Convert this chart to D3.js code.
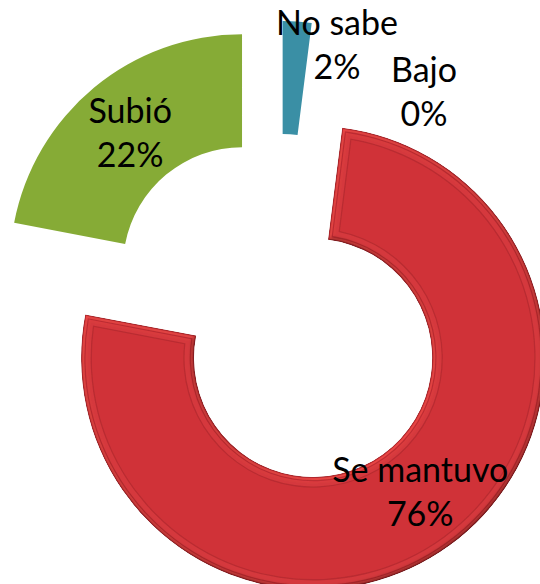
<!DOCTYPE html>
<html>
<head>
<meta charset="utf-8">
<script src="https://cdn.jsdelivr.net/npm/d3@7"></script>
<style>
  body { margin: 0; background: #fff; }
  svg { display: block; }
  text { font-family: Lato, "Open Sans", sans-serif; font-size: 34px; fill: #000; }
</style>
</head>
<body>
<svg width="540" height="584"></svg>
<script>
const categories = ['No sabe', 'Bajo', 'Se mantuvo', 'Subió'];
const values = [2, 0, 76, 22];
const colors = ['#3a8fa5', '#7f5fa8', '#d03237', '#86ab36'];

const width = 540, height = 584;
const cx = 279, cy = 311;
const r0 = 119, r1 = 232;
const explode = 58;

// label spots relative to the pie centre (Excel moves small ones out of the way)
const labelAt = {
  'No sabe': [58, -268],
  'Bajo': [145, -221]
};
const labelNudge = {
  'Se mantuvo': [4, -10]
};

const svg = d3.select('svg');

// bevel lighting for the red ring (multiplied in so the hue stays red)
const elev = 50;
const flat = Math.sin(elev * Math.PI / 180);
const mix = 0.55;
const defs = svg.append('defs');
const f = defs.append('filter').attr('id', 'bevel')
  .attr('x', '-5%').attr('y', '-5%').attr('width', '110%').attr('height', '110%');
f.append('feGaussianBlur').attr('in', 'SourceAlpha').attr('stdDeviation', 2.5).attr('result', 'blur');
f.append('feDiffuseLighting').attr('in', 'blur').attr('surfaceScale', 4)
  .attr('diffuseConstant', 1).attr('lighting-color', '#fff').attr('result', 'light')
  .append('feDistantLight').attr('azimuth', 235).attr('elevation', elev);
f.append('feComposite').attr('in', 'SourceGraphic').attr('in2', 'light')
  .attr('operator', 'arithmetic')
  .attr('k1', mix / flat).attr('k2', 1 - mix).attr('k3', 0).attr('k4', 0)
  .attr('result', 'lit');
f.append('feComposite').attr('in', 'lit').attr('in2', 'SourceGraphic').attr('operator', 'in');

const g = svg.append('g').attr('transform', `translate(${cx},${cy})`);

const data = categories.map((c, i) => ({ name: c, value: values[i], color: colors[i] }));

const pie = d3.pie().sort(null).value(d => d.value);
const arcs = pie(data);

const arc = d3.arc().innerRadius(r0).outerRadius(r1);

// inset arc: same slice shrunk by d on every side
const inset = d => d3.arc()
  .innerRadius(r0 + d)
  .outerRadius(r1 - d)
  .padRadius(100)
  .padAngle(2 * d / 100);

const offset = a => {
  const m = (a.startAngle + a.endAngle) / 2;
  return [explode * Math.sin(m), -explode * Math.cos(m)];
};

const slices = g.selectAll('.slice')
  .data(arcs.filter(a => a.value > 0))
  .enter().append('g')
  .attr('class', 'slice')
  .attr('transform', a => `translate(${offset(a)})`);

slices.each(function(a) {
  let s = d3.select(this);
  if (a.data.name === 'Se mantuvo') {
    let b = s.append('g').attr('filter', 'url(#bevel)');
    const layers = [
      [0, '#a8262b'],
      [1.2, '#d9403f'],
      [3.2, '#b52a2f'],
      [4.4, '#d5393d'],
      [9.5, '#ba2c31'],
      [10.8, '#d03338']
    ];
    layers.forEach(l => {
      b.append('path')
        .attr('d', l[0] ? inset(l[0])(a) : arc(a))
        .attr('fill', l[1]);
    });
  } else {
    s.append('path')
      .attr('d', arc(a))
      .attr('fill', a.data.color);
  }
});

// labels
const labels = g.selectAll('.lbl')
  .data(arcs)
  .enter().append('text')
  .attr('class', 'lbl')
  .attr('text-anchor', 'middle')
  .attr('transform', a => {
    let name = a.data.name;
    if (labelAt[name]) return `translate(${labelAt[name]})`;
    let o = offset(a);
    let c = arc.centroid(a);
    let n = labelNudge[name] || [0, 0];
    return `translate(${c[0] + o[0] + n[0]},${c[1] + o[1] + n[1]})`;
  });

labels.append('tspan')
  .attr('x', 0)
  .attr('y', -8)
  .text(a => a.data.name);

labels.append('tspan')
  .attr('x', 0)
  .attr('y', 36)
  .text(a => a.data.value + '%');
</script>
</body>
</html>
